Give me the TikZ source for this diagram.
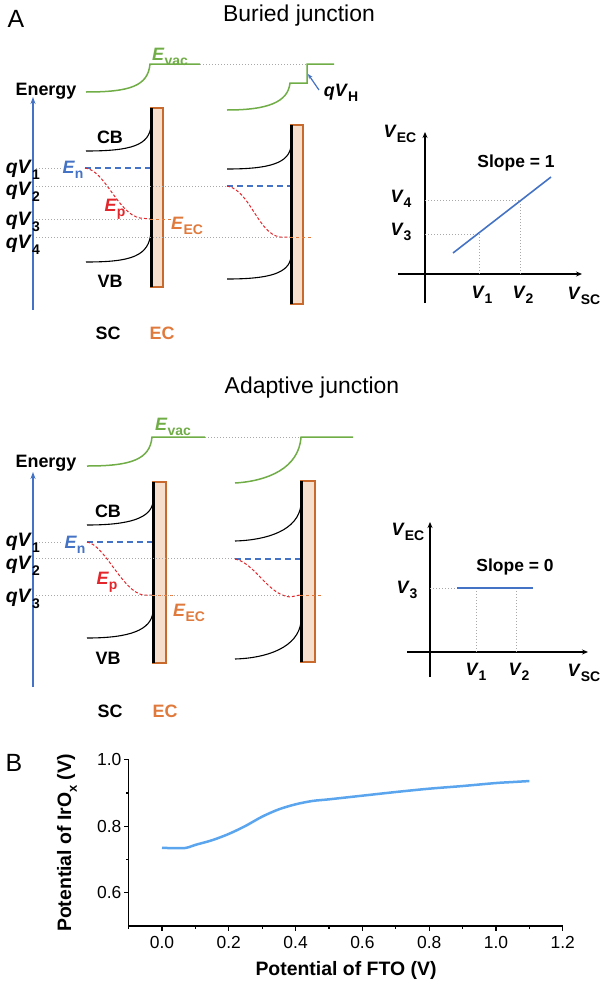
\documentclass[tikz,border=0pt]{standalone}
\usepackage{fontspec}
\setmainfont{Liberation Sans}
\usetikzlibrary{arrows.meta,positioning,calc}
\definecolor{axc}{HTML}{4472C4}
\definecolor{vacc}{HTML}{70AD47}
\definecolor{ecc}{HTML}{E07A3C}
\definecolor{ecedge}{HTML}{C8692E}
\definecolor{ecfill}{HTML}{F7DFCD}
\definecolor{epc}{HTML}{E3262B}
\definecolor{guidec}{HTML}{A8A8A8}
\definecolor{plotc}{HTML}{5BA5EE}
\newcommand{\lsub}[1]{\raisebox{-0.3em}{\fontsize{14}{14}\selectfont #1}}
\tikzset{
  lbl/.style={inner sep=0pt, font=\fontsize{18}{18}\selectfont\bfseries},
  qlbl/.style={lbl, anchor=east, font=\fontsize{19.5}{19.5}\selectfont\bfseries},
  ttl/.style={inner sep=0pt, font=\fontsize{23}{23}\selectfont},
  panel/.style={inner sep=0pt, font=\fontsize{25}{25}\selectfont},
  tick/.style={inner sep=0pt, font=\fontsize{17.5}{17.5}\selectfont},
  band/.style={line width=1.1bp},
  iface/.style={line width=3bp},
  ecbox/.style={draw=ecedge, fill=ecfill, line width=1.2bp},
  vacline/.style={vacc, line width=1.5bp},
  fermn/.style={axc, dash pattern=on 6bp off 4bp, line width=1.3bp},
  fermp/.style={epc, dash pattern=on 3bp off 2bp, line width=1bp},
  ecdash/.style={ecc, dash pattern=on 3bp off 3bp, line width=1bp},
  guide/.style={guidec, dash pattern=on 1.2bp off 1.8bp, line width=1bp},
  eaxis/.style={axc, line width=1.3bp, -{Stealth[length=7bp, width=5bp]}},
  gaxis/.style={line width=1.5bp, -{Stealth[length=6bp, width=5bp]}},
  slope/.style={axc, line width=1.6bp},
}

\begin{document}
\begin{tikzpicture}[x=1bp, y=-1bp]
  \useasboundingbox (0,0) rectangle (600,985);

  % ---------- A: buried junction ----------
  \node[panel] (pA) at (16,19) {A};
  \node[ttl, anchor=base] (tbur) at (299,21) {Buried junction};
  \node[lbl, anchor=base] (enbur) at (46,95) {Energy};
  \draw[eaxis] (33,310) -- (33,97);

  \draw[ecbox] (151,108) rectangle (163,287);
  \draw[iface] (151,108) -- (151,287);
  \draw[band] (86,151) .. controls (132,151) and (149,145) .. (151,126);
  \draw[band] (86,262) .. controls (132,262) and (149,256) .. (151,232);
  \draw[ecbox] (291,125) rectangle (303,304);
  \draw[iface] (291,125) -- (291,304);
  \draw[band] (227,169) .. controls (270,169) and (289,163) .. (291,146);
  \draw[band] (227,279) .. controls (270,279) and (289,273) .. (291,257);

  \draw[vacline] (86,92) .. controls (130,92) and (148,86) .. (150,64) -- (200,64);
  \draw[vacline] (227,110) .. controls (268,110) and (288,102) .. (290,83) -- (307,83) -- (307,64) -- (334,64);
  \draw[guide] (200,64) -- (307,64);

  \draw[fermn] (85,168) -- (150,168);
  \draw[fermp] (85,168) .. controls (105,170) and (118,214) .. (140,218) -- (150,219);
  \draw[ecdash] (150,219) -- (172,219);
  \draw[fermn] (227,186) -- (290,186);
  \draw[fermp] (227,186) .. controls (250,190) and (258,234) .. (280,237) -- (290,237);
  \draw[ecdash] (290,237) -- (313,237);

  \draw[guide] (36,168) -- (63,168);
  \draw[guide] (36,186) -- (227,186);
  \draw[guide] (36,219) -- (142,219);
  \draw[guide] (36,237) -- (283,237);

  \node[lbl] (cbbur) at (110,137) {CB};
  \node[lbl] (vbbur) at (110,281) {VB};
  \node[lbl, vacc] (vacbur) at (170,57) {\textit{E}\lsub{vac}};
  \node[lbl] (qvh) at (341,93) {\textit{qV}\lsub{H}};
  \coordinate (vhtail) at (319,90);
  \coordinate (vhstep) at (308,74);
  \draw[axc, line width=1.2bp, -{Stealth[length=5bp, width=4bp]}] (vhtail) -- (vhstep);
  \node[lbl, axc] (enb) at (73,170) {\textit{E}\lsub{n}};
  \node[lbl, epc] (epb) at (115,209) {\textit{E}\lsub{p}};
  \node[lbl, ecc] (eecb) at (187,226) {\textit{E}\lsub{EC}};
  \node[qlbl] (qv1b) at (40,170) {\textit{qV}\lsub{1}};
  \node[qlbl] (qv2b) at (40,192) {\textit{qV}\lsub{2}};
  \node[qlbl] (qv3b) at (40,222) {\textit{qV}\lsub{3}};
  \node[qlbl] (qv4b) at (40,245) {\textit{qV}\lsub{4}};
  \node[lbl] (scb) at (108,333) {SC};
  \node[lbl, ecc] (ecb) at (162,333) {EC};

  % V_EC vs V_SC, slope 1
  \draw[gaxis] (425,303) -- (425,132);
  \draw[gaxis] (398,274) -- (582,274);
  \draw[guide] (425,234) -- (479,234) -- (479,274);
  \draw[guide] (425,200) -- (520,200) -- (520,274);
  \draw[slope] (453,253) -- (551,177);
  \node[lbl] (vecb) at (400,134) {\textit{V}\lsub{EC}};
  \node[lbl] (v4b) at (401,199) {\textit{V}\lsub{4}};
  \node[lbl] (v3b) at (401,232) {\textit{V}\lsub{3}};
  \node[lbl] (v1b) at (482,295) {\textit{V}\lsub{1}};
  \node[lbl] (v2b) at (523,295) {\textit{V}\lsub{2}};
  \node[lbl] (vscb) at (584,296) {\textit{V}\lsub{SC}};
  \node[lbl, font=\fontsize{17.5}{17.5}\selectfont\bfseries] (slb) at (516,163) {Slope = 1};

  % ---------- A: adaptive junction ----------
  \node[ttl, anchor=base] (tada) at (312,393) {Adaptive junction};
  \node[lbl, anchor=base] (enada) at (46,467) {Energy};
  \draw[eaxis] (33,687) -- (33,472);

  \draw[ecbox] (153,482) rectangle (166,663);
  \draw[iface] (153,482) -- (153,663);
  \draw[band] (87,525) .. controls (130,525) and (151,518) .. (153,502);
  \draw[band] (87,638) .. controls (130,638) and (151,630) .. (153,612);
  \draw[ecbox] (301,481) rectangle (315,662);
  \draw[iface] (301,481) -- (301,662);
  \draw[band] (235,541) .. controls (268,540) and (298,530) .. (301,505);
  \draw[band] (235,659) .. controls (268,658) and (298,647) .. (301,622);

  \draw[vacline] (87,466) .. controls (130,466) and (150,460) .. (152,437) -- (205,437);
  \draw[vacline] (235,483) .. controls (268,481) and (299,468) .. (301,437) -- (353,437);
  \draw[guide] (205,437) -- (301,437);

  \draw[fermn] (87,542) -- (152,542);
  \draw[fermp] (87,542) .. controls (105,545) and (122,591) .. (143,595) -- (152,595);
  \draw[ecdash] (152,595) -- (175,595);
  \draw[fermn] (235,559) -- (300,559);
  \draw[fermp] (235,559) .. controls (255,563) and (268,595) .. (290,597) -- (300,595);
  \draw[ecdash] (300,595) -- (323,595);

  \draw[guide] (36,542) -- (63,542);
  \draw[guide] (36,558) -- (235,558);
  \draw[guide] (36,595) -- (290,595);

  \node[lbl] (cbada) at (108,511) {CB};
  \node[lbl] (vbada) at (108,658) {VB};
  \node[lbl, vacc] (vacada) at (173,427) {\textit{E}\lsub{vac}};
  \node[lbl, axc] (ena) at (75,545) {\textit{E}\lsub{n}};
  \node[lbl, epc] (epa) at (107,582) {\textit{E}\lsub{p}};
  \node[lbl, ecc] (eeca) at (189,613) {\textit{E}\lsub{EC}};
  \node[qlbl] (qv1a) at (40,543) {\textit{qV}\lsub{1}};
  \node[qlbl] (qv2a) at (40,566) {\textit{qV}\lsub{2}};
  \node[qlbl] (qv3a) at (40,599) {\textit{qV}\lsub{3}};
  \node[lbl] (sca) at (110,711) {SC};
  \node[lbl, ecc] (eca) at (165,711) {EC};

  % V_EC vs V_SC, slope 0
  \draw[gaxis] (430,677) -- (430,522);
  \draw[gaxis] (407,652) -- (588,652);
  \draw[guide] (430,588) -- (457,588);
  \draw[guide] (476,588) -- (476,652);
  \draw[guide] (516,588) -- (516,652);
  \draw[slope] (457,588) -- (533,588);
  \node[lbl] (veca) at (408,532) {\textit{V}\lsub{EC}};
  \node[lbl] (v3a) at (407,590) {\textit{V}\lsub{3}};
  \node[lbl] (v1a) at (476,672) {\textit{V}\lsub{1}};
  \node[lbl] (v2a) at (519,672) {\textit{V}\lsub{2}};
  \node[lbl] (vsca) at (584,673) {\textit{V}\lsub{SC}};
  \node[lbl, font=\fontsize{17.5}{17.5}\selectfont\bfseries] (sla) at (515,567) {Slope = 0};

  % ---------- B ----------
  \node[panel] (pB) at (14,763) {B};
  \begin{scope}[shift={(162,1092.25)}, x=334bp, y=332.5bp]
    \draw[line width=1.5bp] (-0.1,1.0) -- (-0.1,0.5) -- (1.2,0.5);
    \foreach \t in {0.0,0.2,0.4,0.6,0.8,1.0,1.2} {
      \draw[line width=1.2bp] (\t,0.5) -- ++(0bp,-4.5bp);
      \node[tick, anchor=north] at ($(\t,0.5)+(0bp,-10bp)$) {\t};
    }
    \foreach \t in {-0.1,0.1,0.3,0.5,0.7,0.9,1.1}
      \draw[line width=1.2bp] (\t,0.5) -- ++(0bp,-2.5bp);
    \foreach \v in {0.6,0.8,1.0} {
      \draw[line width=1.2bp] (-0.1,\v) -- ++(-4.5bp,0bp);
      \node[tick, anchor=east] at ($(-0.1,\v)+(-7bp,0bp)$) {\v};
    }
    \foreach \v in {0.7,0.9}
      \draw[line width=1.2bp] (-0.1,\v) -- ++(-2.5bp,0bp);
    \draw[plotc, line width=2.5bp, line join=round] plot[smooth, tension=0.5] coordinates {
      (0,0.735) (0.06,0.734) (0.08,0.737) (0.1,0.744) (0.15,0.758) (0.2,0.777)
      (0.25,0.801) (0.3,0.829) (0.35,0.851) (0.4,0.866) (0.45,0.876) (0.5,0.881)
      (0.6,0.892) (0.7,0.903) (0.8,0.913) (0.9,0.921) (1.0,0.930) (1.05,0.933) (1.1,0.936)};
  \end{scope}
  \node[lbl, font=\fontsize{19.5}{19.5}\selectfont\bfseries] (xttl) at (346,970) {Potential of FTO (V)};
  \node[lbl, font=\fontsize{19.5}{19.5}\selectfont\bfseries, rotate=90] (yttl) at (67,843)
    {Potential of IrO\raisebox{-0.3em}{\fontsize{13}{13}\selectfont x} (V)};
\end{tikzpicture}
\end{document}
